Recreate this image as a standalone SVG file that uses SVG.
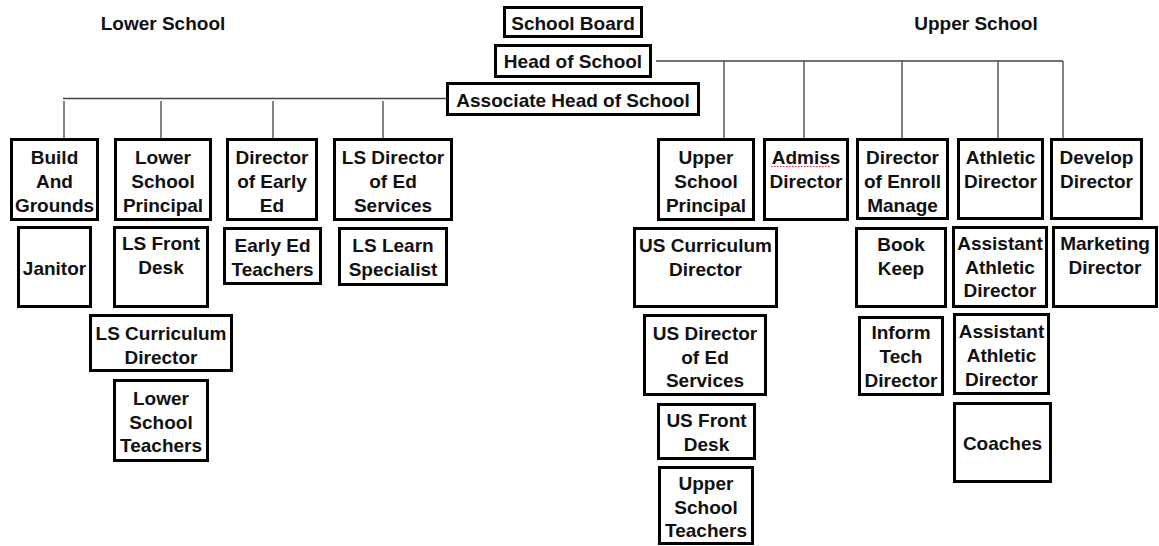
<svg xmlns="http://www.w3.org/2000/svg" width="1159" height="546" viewBox="0 0 1159 546">
<style>
.box{fill:#fff;stroke:#000;stroke-width:3}
.t{font-family:"Liberation Sans",Arial,sans-serif;font-weight:bold;font-size:19px;fill:#111;text-anchor:middle}
.ln{stroke:#444;stroke-width:1.3;fill:none}
</style>
<rect width="1159" height="546" fill="#fff"/>
<text class="t" x="163" y="30">Lower School</text>
<text class="t" x="976" y="30">Upper School</text>
<g id="connectors">
<path class="ln" d="M656 61H1063M724 61V138M804 61V138M902 61V138M998 61V138M1063 61V138"/>
<path class="ln" d="M63 98.5H446M64 101V138M161 101V138M273 101V138M383 101V138"/>
</g>
<g id="school-board"><rect class="box" x="504.5" y="7.5" width="137" height="29"/><text class="t" x="573" y="30">School Board</text></g>
<g id="head-of-school"><rect class="box" x="495.5" y="45.5" width="155" height="31"/><text class="t" x="573" y="68">Head of School</text></g>
<g id="associate-head"><rect class="box" x="447.5" y="83.5" width="251" height="31"/><text class="t" x="573" y="107">Associate Head of School</text></g>

<g id="build-grounds"><rect class="box" x="11.5" y="139.5" width="86" height="80"/><text class="t" y="164"><tspan x="54.5">Build</tspan><tspan x="54.5" dy="24">And</tspan><tspan x="54.5" dy="24">Grounds</tspan></text></g>
<g id="ls-principal"><rect class="box" x="115.5" y="139.5" width="95" height="80"/><text class="t" y="164"><tspan x="163">Lower</tspan><tspan x="163" dy="24">School</tspan><tspan x="163" dy="24">Principal</tspan></text></g>
<g id="dir-early-ed"><rect class="box" x="227.5" y="139.5" width="89" height="80"/><text class="t" y="164"><tspan x="272">Director</tspan><tspan x="272" dy="24">of Early</tspan><tspan x="272" dy="24">Ed</tspan></text></g>
<g id="ls-dir-ed-services"><rect class="box" x="334.5" y="139.5" width="117" height="80"/><text class="t" y="164"><tspan x="393">LS Director</tspan><tspan x="393" dy="24">of Ed</tspan><tspan x="393" dy="24">Services</tspan></text></g>

<g id="us-principal"><rect class="box" x="658.5" y="139.5" width="95" height="80"/><text class="t" y="164"><tspan x="706">Upper</tspan><tspan x="706" dy="24">School</tspan><tspan x="706" dy="24">Principal</tspan></text></g>
<g id="admiss-director"><rect class="box" x="764.5" y="139.5" width="83" height="80"/><text class="t" y="164"><tspan x="806">Admiss</tspan><tspan x="806" dy="24">Director</tspan></text><path d="M771 166.5h60" stroke="#e03030" stroke-width="1" stroke-dasharray="1.5 1.5"/></g>
<g id="dir-enroll"><rect class="box" x="857.5" y="139.5" width="90" height="79"/><text class="t" y="164"><tspan x="902.5">Director</tspan><tspan x="902.5" dy="24">of Enroll</tspan><tspan x="902.5" dy="24">Manage</tspan></text></g>
<g id="athletic-director"><rect class="box" x="958.5" y="139.5" width="84" height="79"/><text class="t" y="164"><tspan x="1000.5">Athletic</tspan><tspan x="1000.5" dy="24">Director</tspan></text></g>
<g id="develop-director"><rect class="box" x="1051.5" y="139.5" width="90" height="79"/><text class="t" y="164"><tspan x="1096.5">Develop</tspan><tspan x="1096.5" dy="24">Director</tspan></text></g>

<g id="janitor"><rect class="box" x="18.5" y="227.5" width="72" height="79"/><text class="t" x="54.5" y="275">Janitor</text></g>
<g id="ls-front-desk"><rect class="box" x="114.5" y="227.5" width="93" height="79"/><text class="t" y="250"><tspan x="161">LS Front</tspan><tspan x="161" dy="23.5">Desk</tspan></text></g>
<g id="early-ed-teachers"><rect class="box" x="224.5" y="228.5" width="96" height="55"/><text class="t" y="252"><tspan x="272.5">Early Ed</tspan><tspan x="272.5" dy="23.5">Teachers</tspan></text></g>
<g id="ls-learn-specialist"><rect class="box" x="339.5" y="228.5" width="107" height="56"/><text class="t" y="252"><tspan x="393">LS Learn</tspan><tspan x="393" dy="23.5">Specialist</tspan></text></g>
<g id="ls-curriculum"><rect class="box" x="90.5" y="315.5" width="141" height="55"/><text class="t" y="340"><tspan x="161">LS Curriculum</tspan><tspan x="161" dy="23.5">Director</tspan></text></g>
<g id="ls-teachers"><rect class="box" x="114.5" y="380.5" width="93" height="80"/><text class="t" y="405"><tspan x="161">Lower</tspan><tspan x="161" dy="23.5">School</tspan><tspan x="161" dy="23.5">Teachers</tspan></text></g>

<g id="us-curriculum"><rect class="box" x="634.5" y="228.5" width="142" height="78"/><text class="t" y="252"><tspan x="705.5">US Curriculum</tspan><tspan x="705.5" dy="23.5">Director</tspan></text></g>
<g id="us-dir-ed-services"><rect class="box" x="644.5" y="315.5" width="121" height="79"/><text class="t" y="340"><tspan x="705">US Director</tspan><tspan x="705" dy="23.5">of Ed</tspan><tspan x="705" dy="23.5">Services</tspan></text></g>
<g id="us-front-desk"><rect class="box" x="658.5" y="404.5" width="96" height="54"/><text class="t" y="427"><tspan x="706.5">US Front</tspan><tspan x="706.5" dy="23.5">Desk</tspan></text></g>
<g id="us-teachers"><rect class="box" x="659.5" y="467.5" width="93" height="76"/><text class="t" y="490"><tspan x="706">Upper</tspan><tspan x="706" dy="23.5">School</tspan><tspan x="706" dy="23.5">Teachers</tspan></text></g>

<g id="book-keep"><rect class="box" x="856.5" y="228.5" width="89" height="78"/><text class="t" y="251"><tspan x="901">Book</tspan><tspan x="901" dy="23.5">Keep</tspan></text></g>
<g id="inform-tech"><rect class="box" x="859.5" y="317.5" width="83" height="77"/><text class="t" y="339"><tspan x="901">Inform</tspan><tspan x="901" dy="24">Tech</tspan><tspan x="901" dy="24">Director</tspan></text></g>
<g id="asst-athletic-1"><rect class="box" x="953.5" y="227.5" width="93" height="79"/><text class="t" y="250"><tspan x="1000">Assistant</tspan><tspan x="1000" dy="23.5">Athletic</tspan><tspan x="1000" dy="23.5">Director</tspan></text></g>
<g id="asst-athletic-2"><rect class="box" x="954.5" y="314.5" width="94" height="79"/><text class="t" y="338"><tspan x="1001.5">Assistant</tspan><tspan x="1001.5" dy="24">Athletic</tspan><tspan x="1001.5" dy="24">Director</tspan></text></g>
<g id="coaches"><rect class="box" x="954.5" y="403.5" width="96" height="78"/><text class="t" x="1002.5" y="450">Coaches</text></g>
<g id="marketing-director"><rect class="box" x="1053.5" y="227.5" width="103" height="79"/><text class="t" y="250"><tspan x="1105">Marketing</tspan><tspan x="1105" dy="23.5">Director</tspan></text></g>
</svg>
